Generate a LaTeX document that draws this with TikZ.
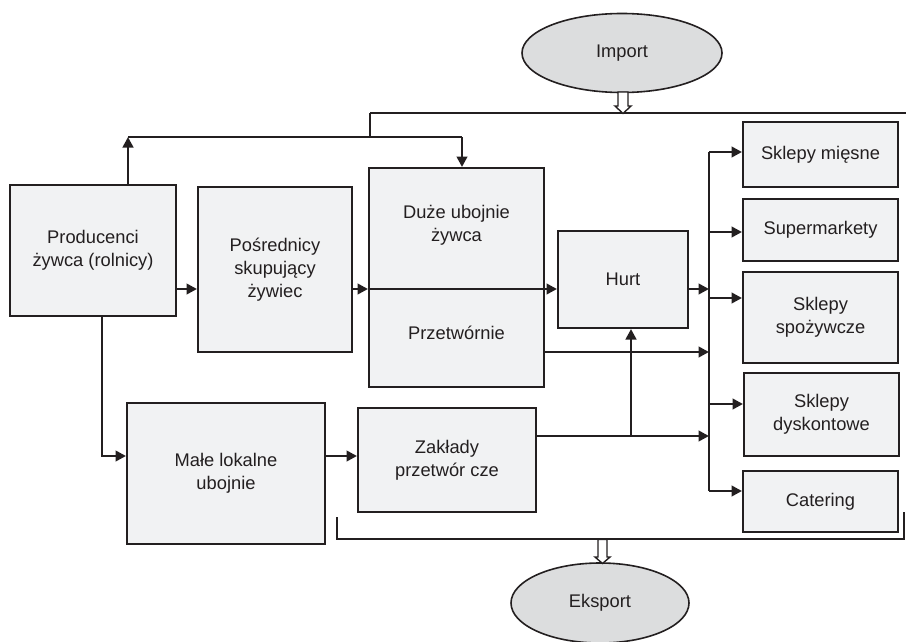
\documentclass[tikz,border=0pt]{standalone}
\usepackage{fontspec}
\setmainfont{Liberation Sans}
\usetikzlibrary{arrows.meta,shapes.geometric,calc}
\definecolor{ink}{HTML}{231F20}
\definecolor{boxfill}{HTML}{F1F2F3}
\definecolor{ellfill}{HTML}{DCDDDE}
\begin{document}
\begin{tikzpicture}[x=1pt,y=-1pt,
  base/.style={font=\fontsize{18.3}{22.8}\selectfont, text=ink, align=center},
  box/.style={base, draw=ink, line width=2pt, fill=boxfill, inner sep=0pt},
  ell/.style={base, ellipse, draw=ink, line width=1.6pt, fill=ellfill, inner sep=0pt},
  arr/.style={draw=ink, line width=2.8pt, -{Triangle[length=10.5pt,width=10.5pt]}},
  ln/.style={draw=ink, line width=2.2pt},
  thin/.style={draw=ink, line width=1.8pt},
  hollow/.style={draw=ink, line width=1.4pt, fill=white, line join=miter}]
\useasboundingbox (0,0) rectangle (907,642);
\clip (0,0) rectangle (907,642);

% nodes
\node[ell, minimum width=200, minimum height=79] (imp) at (622,53) {Import};
\node[ell, minimum width=178, minimum height=80] (eks) at (600,603) {Eksport};

\node[box, minimum width=166, minimum height=131] (prod) at (93,250.5) {Producenci\\żywca (rolnicy)};
\node[box, minimum width=154, minimum height=165] (posr) at (275,269.5) {Pośrednicy\\skupujący\\żywiec};
\node[box, minimum width=175, minimum height=219] (duze) at (456.5,277.5) {};
\node[base] (duzet) at (456.5,225) {Duże ubojnie\\żywca};
\node[base] (przet) at (456.5,333) {Przetwórnie};
\node[box, minimum width=130, minimum height=97] (hurt) at (623,279.5) {Hurt};
\node[box, minimum width=198, minimum height=141] (male) at (226,473.5) {Małe lokalne\\ubojnie};
\node[box, minimum width=178, minimum height=104] (zakl) at (447,460) {Zakłady\\przetwór cze};

\node[box, minimum width=155, minimum height=65] (mies) at (820.5,154.5) {Sklepy mięsne};
\node[box, minimum width=155, minimum height=62] (super) at (820.5,230) {Supermarkety};
\node[box, minimum width=155, minimum height=91] (spoz) at (820.5,317.5) {Sklepy\\spożywcze};
\node[box, minimum width=155, minimum height=83] (dysk) at (821.5,414.5) {Sklepy\\dyskontowe};
\node[box, minimum width=155, minimum height=61] (cat) at (820.5,501.5) {Catering};

% named coordinates
\coordinate (impL) at (370,113);
\coordinate (impR) at (906,113);
\coordinate (j0) at (370,137);
\coordinate (j1) at (128,137);
\coordinate (j2) at (462,137);
\coordinate (yA) at (0,289);
\coordinate (yB) at (0,352);
\coordinate (yC) at (0,456);
\coordinate (yD) at (0,436);
\coordinate (busT) at (709,152);
\coordinate (busB) at (709,491);
\coordinate (jz) at (631,436);
\coordinate (jp) at (102,456);
\coordinate (bL) at (337,517);
\coordinate (bLc) at (337,539);
\coordinate (bRc) at (904,539);
\coordinate (bR) at (904,512);

% import line and top branch
\draw[ln] (impL) -- (impR);
\draw[ln] (impL) -- (j0);
\draw[ln] (j1) -- (j2);
\draw[arr] (prod.north -| j1) -- (j1);
\draw[arr] (j2) -- (duze.north -| j2);

% hollow arrows
\draw[hollow] (618,92) -- (628,92) -- (628,106) -- (631,106) -- (623,113.5) -- (615,106) -- (618,106) -- cycle;
\draw[hollow] (598,539.5) -- (607,539.5) -- (607,557) -- (610,557) -- (602.5,563.5) -- (595,557) -- (598,557) -- cycle;

% main row
\draw[arr] (prod.east |- yA) -- (posr.west |- yA);
\draw[arr] (posr.east |- yA) -- (duze.west |- yA);
\draw[arr] (duze.west |- yA) -- (hurt.west |- yA);
\draw[arr] (hurt.east |- yA) -- (busT |- yA);
\draw[arr] (duze.east |- yB) -- (busT |- yB);
\draw[arr] (zakl.east |- yD) -- (busT |- yD);
\draw[arr] (jz) -- (hurt.south -| jz);

% bus
\draw[ln] (busT) -- (busB);
\draw[arr] (busT) -- (mies.west |- busT);
\draw[arr] (busT |- super.west) ++(0,2) -- ([yshift=-2pt]super.west);
\draw[arr] (busT |- spoz.west) ++(0,-19.5) -- ([yshift=19.5pt]spoz.west);
\draw[arr] (busT |- dysk.west) ++(0,-10.5) -- ([yshift=10.5pt]dysk.west);
\draw[arr] (busB) -- (cat.west |- busB);

% lower branch
\draw[arr] (prod.south -| jp) -- (jp) -- (male.west |- jp);
\draw[arr] (male.east |- yC) -- (zakl.west |- yC);

% export line
\draw[thin] (bL) -- (bLc) -- (bRc) -- (bR);
\end{tikzpicture}
\end{document}
